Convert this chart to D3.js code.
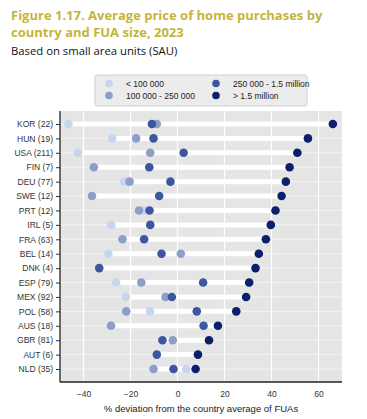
<!DOCTYPE html>
<html><head><meta charset="utf-8">
<script src="https://cdn.jsdelivr.net/npm/d3@7"></script>
<style>body{margin:0;background:#fff;}svg{display:block;}</style>
</head><body>
<script>
const countries = ["KOR (22)","HUN (19)","USA (211)","FIN (7)","DEU (77)","SWE (12)","PRT (12)","IRL (5)","FRA (63)","BEL (14)","DNK (4)","ESP (79)","MEX (92)","POL (58)","AUS (18)","GBR (81)","AUT (6)","NLD (35)"];
const seriesNames = ["< 100 000","100 000 - 250 000","250 000 - 1.5 million","> 1.5 million"];
const small  = [-46.4,-27.8,-42.4,null,-22.7,null,-14.5,-28.2,null,-29.4,null,-26.1,-22.0,-11.7,null,null,null,3.7];
const medium = [-8.8,-17.6,-11.6,-35.6,-20.4,-36.4,-16.4,null,-23.4,1.4,null,-15.4,-5.1,-21.8,-28.3,-2.0,null,-10.2];
const large  = [-10.9,-10.2,2.6,-12.0,-3.0,-7.8,-11.9,-11.6,-14.2,-6.8,-33.3,10.9,-2.4,8.2,11.1,-6.4,-8.8,-1.7];
const metro  = [66.1,55.5,51.0,47.7,46.1,44.3,41.7,39.7,37.6,34.6,33.2,30.5,29.2,25.0,17.2,13.4,8.7,7.7];
const xTicks = [-40,-20,0,20,40,60];
const colors = ["#c6d6ef","#8b9fca","#3d56a1","#0c1f6c"];

const W=367,H=419;
const svg=d3.select("body").append("svg").attr("width",W).attr("height",H);
const font="'Liberation Sans', Arial, sans-serif";

// Title
const title=svg.append("g").attr("font-family","'Open Sans', 'Noto Sans', sans-serif");
title.append("text").attr("x",11).attr("y",20).attr("font-size",13).attr("font-weight","bold").attr("fill","#c4b53a").text("Figure 1.17. Average price of home purchases by");
title.append("text").attr("x",11).attr("y",37).attr("font-size",13).attr("font-weight","bold").attr("fill","#c4b53a").text("country and FUA size, 2023");
title.append("text").attr("x",11).attr("y",55).attr("font-size",11.3).attr("fill","#111").text("Based on small area units (SAU)");

const L=60,R=342,T=111,B=382;
const x=d3.scaleLinear().domain([-50,70]).range([L,R]);
const y=d3.scalePoint().domain(countries).range([T,B]).padding(0.9);

svg.append("rect").attr("x",L).attr("y",T).attr("width",R-L).attr("height",B-T).attr("fill","#e5e5e5");
// vertical grid
svg.append("g").selectAll("line").data(xTicks).join("line")
  .attr("x1",d=>x(d)).attr("x2",d=>x(d)).attr("y1",T).attr("y2",B)
  .attr("stroke","#fff").attr("stroke-width",1.2);
// horizontal grid
svg.append("g").selectAll("line").data(countries).join("line")
  .attr("x1",L).attr("x2",R).attr("y1",d=>y(d)).attr("y2",d=>y(d))
  .attr("stroke","#fff").attr("stroke-width",1).attr("opacity",0.6);

const series=[small,medium,large,metro];
// range bars
svg.append("g").selectAll("line").data(countries).join("line")
  .each(function(c,i){
    const vals=series.map(s=>s[i]).filter(v=>v!=null);
    d3.select(this).attr("x1",x(d3.min(vals))).attr("x2",x(d3.max(vals)));
  })
  .attr("y1",d=>y(d)).attr("y2",d=>y(d)).attr("stroke","#fff").attr("stroke-width",5);

series.forEach((s,k)=>{
  svg.append("g").selectAll("circle").data(s.map((v,i)=>({v,c:countries[i]})).filter(d=>d.v!=null)).join("circle")
    .attr("cx",d=>x(d.v)).attr("cy",d=>y(d.c)).attr("r",4.3).attr("fill",colors[k]);
});

// axes
const ya=svg.append("g").attr("transform",`translate(${L},0)`).call(d3.axisLeft(y).tickSize(4).tickPadding(3));
ya.select(".domain").remove();
ya.selectAll("text").attr("font-family",font).attr("font-size",8.5).attr("fill","#333");
ya.selectAll("line").attr("stroke","#333");
const xa=svg.append("g").attr("transform",`translate(0,${B})`).call(d3.axisBottom(x).tickValues(xTicks).tickSize(0).tickPadding(9).tickFormat(d3.format("d")));
xa.select(".domain").remove();
xa.selectAll("text").attr("font-family",font).attr("font-size",8.5).attr("fill","#333");
svg.append("line").attr("x1",L).attr("x2",L).attr("y1",T).attr("y2",B).attr("stroke","#222").attr("stroke-width",1.3);
svg.append("line").attr("x1",L).attr("x2",R).attr("y1",B).attr("y2",B).attr("stroke","#222").attr("stroke-width",1.3);
svg.append("text").attr("x",(L+R)/2).attr("y",412).attr("text-anchor","middle").attr("font-family",font).attr("font-size",9.5).attr("fill","#222").text("% deviation from the country average of FUAs");

// legend
const lg=svg.append("g");
lg.append("rect").attr("x",95).attr("y",75).attr("width",212).attr("height",31).attr("rx",2).attr("fill","#ececec").attr("stroke","#cfcfcf");
const pos=[[109,83.5],[109,95.5],[216,83.5],[216,95.5]];
seriesNames.forEach((n,k)=>{
  lg.append("circle").attr("cx",pos[k][0]).attr("cy",pos[k][1]).attr("r",3.8).attr("fill",colors[k]);
  lg.append("text").attr("x",pos[k][0]+17).attr("y",pos[k][1]+3).attr("font-family",font).attr("font-size",8.5).attr("fill","#222").text(n);
});
</script>
</body></html>
